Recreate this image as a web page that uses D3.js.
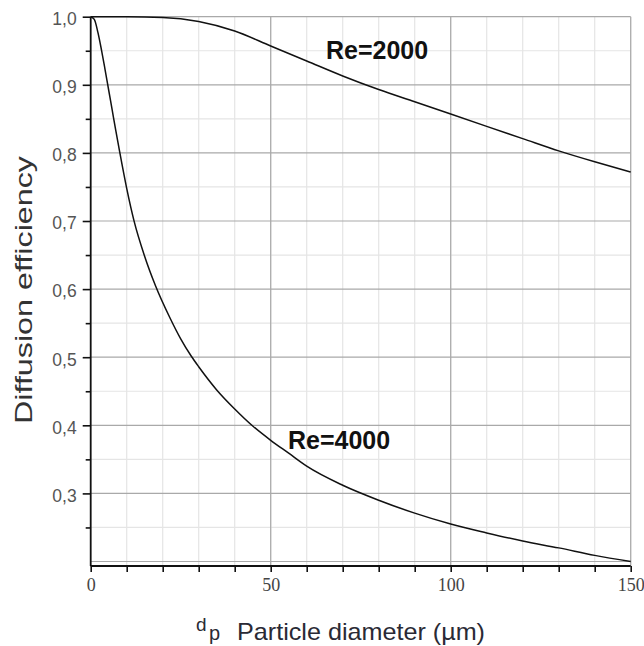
<!DOCTYPE html>
<html>
<head>
<meta charset="utf-8">
<script src="https://cdn.jsdelivr.net/npm/d3@7"></script>
<style>
  html, body { margin: 0; padding: 0; background: #fff; }
  svg { display: block; }
</style>
</head>
<body>
<svg id="chart" width="644" height="646"></svg>
<script>
// Particle diameter (µm) and diffusion efficiency for the two Reynolds numbers
const diameters2000 = [0, 10, 20, 30, 40, 50, 60, 70, 80, 90, 100, 110, 120, 130, 140, 150];
const efficiency2000 = [1.000, 1.000, 0.999, 0.993, 0.979, 0.957, 0.935, 0.913, 0.893, 0.875, 0.857, 0.839, 0.821, 0.803, 0.787, 0.772];

const diameters4000 = [0, 1, 2, 3, 4, 5, 6, 7, 8, 10, 12, 15, 18, 22, 25, 28, 30, 35, 40, 45, 50, 55, 60, 70, 80, 90, 100, 110, 120, 130, 140, 150];
const efficiency4000 = [1.000, 0.996, 0.977, 0.951, 0.922, 0.892, 0.862, 0.832, 0.803, 0.748, 0.701, 0.648, 0.605, 0.558, 0.527, 0.501, 0.486, 0.452, 0.424, 0.399, 0.378, 0.359, 0.340, 0.312, 0.290, 0.271, 0.255, 0.242, 0.230, 0.220, 0.209, 0.200];

const seriesLabels = ["Re=2000", "Re=4000"];
const xTickLabels = [0, 50, 100, 150];
const yTickLabels = [0.3, 0.4, 0.5, 0.6, 0.7, 0.8, 0.9, 1.0];
const yMinorTicks = [0.25, 0.35, 0.45, 0.55, 0.65, 0.75, 0.85, 0.95];
const xMinorTicks = d3.range(0, 151, 10);
const yMajorGrid = [0.2, 0.3, 0.4, 0.5, 0.6, 0.7, 0.8, 0.9, 1.0];
const xMajorGrid = [50, 100, 150];

const svg = d3.select("#chart");

const x = d3.scaleLinear().domain([0, 150]).range([90.7, 630.7]);
const y = d3.scaleLinear().domain([0.1934, 1.0]).range([566, 16.7]);

const commaLocale = d3.formatLocale({ decimal: ",", thousands: ".", grouping: [3], currency: ["", ""] });
const fmtY = commaLocale.format(".1f");

// grid: light lines first, then the heavier ones
const grid = svg.append("g");
grid.selectAll("line.xminor").data(xMinorTicks).join("line")
  .attr("x1", d => x(d)).attr("x2", d => x(d))
  .attr("y1", y(1.0)).attr("y2", y.range()[0])
  .attr("stroke", "#e5e5e5").attr("stroke-width", 1.2);
grid.selectAll("line.yminor").data(yMinorTicks).join("line")
  .attr("x1", x(0)).attr("x2", x(150))
  .attr("y1", d => y(d)).attr("y2", d => y(d))
  .attr("stroke", "#e5e5e5").attr("stroke-width", 1.2);
grid.selectAll("line.xmajor").data(xMajorGrid).join("line")
  .attr("x1", d => x(d)).attr("x2", d => x(d))
  .attr("y1", y(1.0)).attr("y2", y.range()[0])
  .attr("stroke", "#a9a9a9").attr("stroke-width", 1.2);
grid.selectAll("line.ymajor").data(yMajorGrid).join("line")
  .attr("x1", x(0)).attr("x2", x(150))
  .attr("y1", d => y(d)).attr("y2", d => y(d))
  .attr("stroke", "#a9a9a9").attr("stroke-width", 1.2);

// curves
const line = d3.line().x(d => x(d[0])).y(d => y(d[1])).curve(d3.curveMonotoneX);
const curves = [
  d3.zip(diameters2000, efficiency2000),
  d3.zip(diameters4000, efficiency4000)
];
svg.append("g").selectAll("path").data(curves).join("path")
  .attr("d", line)
  .attr("fill", "none")
  .attr("stroke", "#111")
  .attr("stroke-width", 1.5);

// y axis
const yAxis = svg.append("g").attr("transform", `translate(${x(0)},0)`)
  .call(d3.axisLeft(y).tickValues(yTickLabels).tickFormat(fmtY).tickSize(8).tickPadding(6));
yAxis.select(".domain").attr("stroke", "#111").attr("stroke-width", 1.8)
  .attr("d", `M0,${y(1.0)}V${y.range()[0]}`);
yAxis.selectAll(".tick line").attr("stroke", "#111").attr("stroke-width", 1.6);
yAxis.selectAll(".tick text")
  .attr("font-family", "'Liberation Sans', Arial, sans-serif")
  .attr("font-size", 17.5).attr("fill", "#555").attr("dy", "0.45em");
svg.append("g").attr("transform", `translate(${x(0)},0)`)
  .call(d3.axisLeft(y).tickValues(yMinorTicks).tickFormat("").tickSize(5))
  .call(g => g.select(".domain").remove())
  .selectAll(".tick line").attr("stroke", "#111").attr("stroke-width", 1.6);

// x axis
const xAxis = svg.append("g").attr("transform", `translate(0,${y.range()[0]})`)
  .call(d3.axisBottom(x).tickValues(xMinorTicks)
    .tickFormat(d => xTickLabels.includes(d) ? d : "").tickSize(6).tickPadding(6));
xAxis.select(".domain").attr("stroke", "#111").attr("stroke-width", 1.8)
  .attr("d", `M${x(0)},0H${x(150)}`);
xAxis.selectAll(".tick line").attr("stroke", "#111").attr("stroke-width", 1.6);
xAxis.selectAll(".tick text")
  .attr("font-family", "'Liberation Serif', 'Times New Roman', serif")
  .attr("font-size", 18).attr("fill", "#444");

// series labels
const labelPos = [[326, 59], [288, 449]];
svg.append("g").selectAll("text").data(seriesLabels).join("text")
  .attr("x", (d, i) => labelPos[i][0]).attr("y", (d, i) => labelPos[i][1])
  .attr("font-family", "'Liberation Sans', Arial, sans-serif")
  .attr("font-weight", "bold").attr("font-size", 25).attr("fill", "#111")
  .text(d => d);

// axis titles
svg.append("text")
  .attr("transform", "translate(32,290) rotate(-90)")
  .attr("text-anchor", "middle")
  .attr("font-family", "'Liberation Sans', Arial, sans-serif")
  .attr("font-size", 24).attr("fill", "#333")
  .attr("textLength", 268).attr("lengthAdjust", "spacingAndGlyphs")
  .text("Diffusion  efficiency");

const xt = svg.append("g")
  .attr("font-family", "'Liberation Sans', Arial, sans-serif")
  .attr("fill", "#2a2a35");
xt.append("text").attr("x", 196).attr("y", 631).attr("font-size", 19).text("d");
xt.append("text").attr("x", 209).attr("y", 640).attr("font-size", 20).text("p");
xt.append("text").attr("x", 237).attr("y", 640).attr("font-size", 24)
  .attr("textLength", 248).attr("lengthAdjust", "spacingAndGlyphs")
  .text("Particle diameter (µm)");
</script>
</body>
</html>
